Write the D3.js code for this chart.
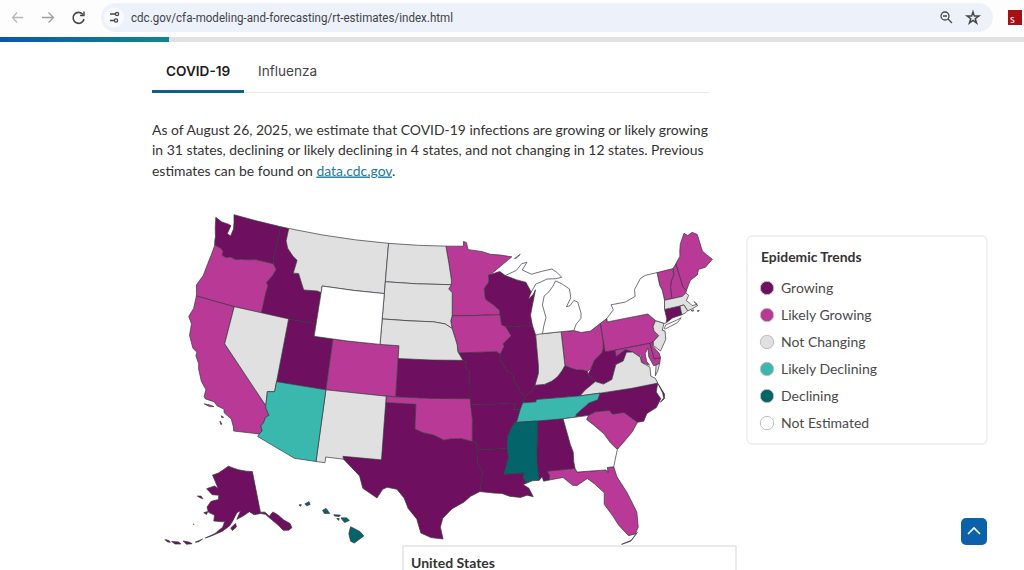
<!DOCTYPE html>
<html><head><meta charset="utf-8">
<script src="https://cdn.jsdelivr.net/npm/d3@7/dist/d3.min.js"></script>
<style>
html,body{margin:0;padding:0;background:#fff;overflow:hidden}
svg{display:block}
text{font-family:Lato,"Open Sans",sans-serif}
</style></head><body>
<svg id="page" width="1024" height="570"></svg>
<script>
const legendLabels=["Growing","Likely Growing","Not Changing","Likely Declining","Declining","Not Estimated"];
const legendColors=["#6f0f5f","#b83a96","#e0e0e0","#3ab8ae","#036469","#ffffff"];
const growing=["WA","ID","UT","KS","MO","AR","LA","TX","AL","WI","IL","KY","WV","NC","CT","AK"];
const likelyGrowing=["OR","CA","CO","OK","MN","IA","OH","PA","MD","DE","SC","FL","ME","NH","VT"];
const notChanging=["MT","ND","SD","NE","NV","NM","IN","VA","NJ","MA","RI","DC"];
const likelyDeclining=["AZ","TN"];
const declining=["MS","HI"];
const notEstimated=["WY","MI","GA","NY"];
const paragraphLines=["As of August 26, 2025, we estimate that COVID-19 infections are growing or likely growing","in 31 states, declining or likely declining in 4 states, and not changing in 12 states. Previous"];
const paragraphEnd=["estimates can be found on ","data.cdc.gov","."];
const stateShapes={
WA:[[[-122.76,49],[-120,49],[-117.03,49],[-117.04,46.42],[-116.92,46],[-118.98,46],[-119.3,45.93],[-119.9,45.83],[-120.65,45.73],[-121.2,45.6],[-121.8,45.7],[-122.3,45.55],[-122.76,45.65],[-122.8,46],[-123.2,46.15],[-123.9,46.25],[-124.05,46.6],[-124.1,46.9],[-124.4,47.5],[-124.73,48.38],[-123.9,48.17],[-123.1,48.15],[-122.75,48.1],[-122.9,47.4],[-122.45,47.3],[-122.35,47.9],[-122.5,48.4],[-122.76,49]]],
OR:[[[-123.9,46.25],[-123.2,46.15],[-122.8,46],[-122.76,45.65],[-122.3,45.55],[-121.8,45.7],[-121.2,45.6],[-120.65,45.73],[-119.9,45.83],[-119.3,45.93],[-118.98,46],[-116.92,46],[-116.46,45.6],[-116.7,45.1],[-117.2,44.45],[-116.95,44.2],[-117.03,43.8],[-117.03,42],[-120,42],[-124.21,42],[-124.55,42.84],[-124.15,43.7],[-124.05,44.7],[-123.95,45.5]]],
CA:[[[-124.21,42],[-120,42],[-120,39],[-114.63,35],[-114.57,34.8],[-114.14,34.3],[-114.43,34.1],[-114.53,33.6],[-114.72,33.4],[-114.5,33],[-114.72,32.72],[-117.12,32.53],[-117.25,32.85],[-117.6,33.4],[-118.4,33.75],[-118.5,34.03],[-119.2,34.15],[-119.6,34.4],[-120.47,34.45],[-120.65,34.6],[-120.65,35.15],[-121.3,35.7],[-121.9,36.6],[-122,36.95],[-122.5,37.5],[-122.5,37.8],[-123,38],[-123.7,38.9],[-123.85,39.8],[-124.35,40.3],[-124.1,41]],
[[-120.45,34.05],[-119.9,34.08],[-119.5,34.03],[-119.9,33.95]],[[-118.6,33.47],[-118.35,33.4],[-118.5,33.33]],[[-118.6,33.05],[-118.35,32.85],[-118.45,32.8]]],
NV:[[[-120,42],[-114.04,42],[-114.04,36.2],[-114.74,36.1],[-114.63,35],[-120,39]]],
ID:[[[-117.03,49],[-116.05,49],[-116.05,48],[-115.7,47.45],[-114.9,46.9],[-114.35,46.65],[-114.5,45.6],[-113.9,45.65],[-113.45,45.05],[-113,44.45],[-111.5,44.55],[-111.05,44.47],[-111.05,42],[-114.04,42],[-117.03,42],[-117.03,43.8],[-116.95,44.2],[-117.2,44.45],[-116.7,45.1],[-116.46,45.6],[-116.92,46],[-117.04,46.42]]],
MT:[[[-116.05,49],[-112,49],[-108,49],[-104.05,49],[-104.05,45],[-107.5,45],[-111.05,45],[-111.05,44.47],[-111.5,44.55],[-113,44.45],[-113.45,45.05],[-113.9,45.65],[-114.5,45.6],[-114.35,46.65],[-114.9,46.9],[-115.7,47.45],[-116.05,48]]],
WY:[[[-111.05,45],[-107.5,45],[-104.05,45],[-104.05,41],[-107.5,41],[-111.05,41]]],
UT:[[[-114.04,42],[-111.05,42],[-111.05,41],[-109.05,41],[-109.05,37],[-114.04,37]]],
CO:[[[-109.05,41],[-105.5,41],[-102.05,41],[-102.05,37],[-105.5,37],[-109.05,37]]],
AZ:[[[-114.74,36.1],[-114.04,36.2],[-114.04,37],[-109.05,37],[-109.05,31.33],[-111.07,31.33],[-114.81,32.5],[-114.72,32.72],[-114.5,33],[-114.72,33.4],[-114.53,33.6],[-114.43,34.1],[-114.14,34.3],[-114.57,34.8],[-114.63,35]]],
NM:[[[-109.05,37],[-103,37],[-103,32],[-106.62,32],[-106.53,31.78],[-108.21,31.78],[-108.21,31.33],[-109.05,31.33]]],
ND:[[[-104.05,49],[-100.5,49],[-97.23,49],[-96.85,47.6],[-96.55,46.3],[-96.56,45.94],[-100.5,45.94],[-104.05,45.94]]],
SD:[[[-104.05,45.94],[-100.5,45.94],[-96.56,45.94],[-96.85,45.6],[-96.45,45.3],[-96.45,43.5],[-96.6,43.1],[-96.45,42.5],[-97.2,42.85],[-98.5,43],[-101,43],[-104.05,43]]],
NE:[[[-104.05,43],[-101,43],[-98.5,43],[-97.2,42.85],[-96.45,42.5],[-96.1,41.7],[-95.9,41.2],[-95.85,40.7],[-95.31,40],[-98.5,40],[-102.05,40],[-102.05,41],[-104.05,41]]],
KS:[[[-102.05,40],[-98.5,40],[-95.31,40],[-94.9,39.8],[-95.1,39.5],[-94.61,39.1],[-94.62,37],[-98.5,37],[-102.05,37]]],
OK:[[[-103,37],[-102.05,37],[-98.5,37],[-94.62,37],[-94.43,35.4],[-94.48,33.64],[-95.5,33.88],[-96.6,33.85],[-97.2,33.75],[-98.1,34.13],[-99.2,34.3],[-100,34.56],[-100,36.5],[-103,36.5]]],
TX:[[[-106.62,32],[-103.06,32],[-103,36.5],[-100,36.5],[-100,34.56],[-99.2,34.3],[-98.1,34.13],[-97.2,33.75],[-96.6,33.85],[-95.5,33.88],[-94.48,33.64],[-94.04,33.55],[-94.04,32],[-93.55,31.2],[-93.7,30.5],[-93.85,29.7],[-94.7,29.35],[-95.3,28.9],[-96.4,28.35],[-97.2,27.6],[-97.4,26.9],[-97.15,25.96],[-98.2,26.05],[-99.1,26.4],[-99.5,27.5],[-100.3,28.3],[-100.7,29.1],[-101.4,29.77],[-102.3,29.88],[-102.7,29.7],[-103.15,28.98],[-104.5,29.65],[-104.9,30.6],[-106.53,31.78]]],
MN:[[[-97.23,49],[-95.15,49],[-95.15,49.38],[-94.8,49.3],[-94.6,48.72],[-93,48.55],[-92,48.3],[-90.8,48.2],[-89.5,48],[-90.7,47.4],[-92.05,46.7],[-92.3,46.65],[-92.3,46.1],[-92.85,45.6],[-92.75,44.75],[-91.9,44.3],[-91.25,43.85],[-91.22,43.5],[-94,43.5],[-96.45,43.5],[-96.45,45.3],[-96.85,45.6],[-96.56,45.94],[-96.55,46.3],[-96.85,47.6]]],
IA:[[[-96.45,43.5],[-94,43.5],[-91.22,43.5],[-91.1,42.7],[-90.65,42.5],[-90.15,41.8],[-91.05,41.2],[-90.95,41],[-91.4,40.4],[-91.73,40.61],[-95.77,40.59],[-95.9,41.2],[-96.1,41.7],[-96.45,42.5],[-96.6,43.1]]],
MO:[[[-95.77,40.59],[-91.73,40.61],[-91.4,40.4],[-91.5,40],[-90.7,39],[-90.2,38.8],[-90.2,38.4],[-89.5,37.3],[-89.1,37],[-89.4,36.5],[-89.7,36],[-90.37,36],[-90.1,36.5],[-94.62,36.5],[-94.62,37],[-94.61,39.1],[-95.1,39.5],[-94.9,39.8],[-95.31,40]]],
AR:[[[-94.62,36.5],[-90.1,36.5],[-90.37,36],[-89.7,36],[-90.1,35.1],[-90.3,35],[-90.6,34.7],[-91.1,33.9],[-91.17,33],[-94.04,33],[-94.04,33.55],[-94.48,33.64],[-94.43,35.4]]],
LA:[[[-94.04,33],[-91.17,33],[-91.1,32.3],[-91.6,31],[-89.73,31],[-89.85,30.65],[-89.55,30.2],[-89.9,30.1],[-89.4,29.8],[-89.05,29.1],[-89.6,29.25],[-90.2,29.1],[-91.2,29.25],[-91.85,29.5],[-92.6,29.55],[-93.85,29.7],[-93.7,30.5],[-93.55,31.2],[-94.04,32]]],
WI:[[[-92.3,46.65],[-91,46.9],[-90.4,46.55],[-89.1,46.15],[-88.1,45.9],[-87.6,45.1],[-88,44.55],[-87.4,44.9],[-87.1,45.25],[-87.5,44.3],[-87.9,43.3],[-87.8,42.5],[-90.65,42.5],[-91.1,42.7],[-91.22,43.5],[-91.25,43.85],[-91.9,44.3],[-92.75,44.75],[-92.85,45.6],[-92.3,46.1]]],
IL:[[[-90.65,42.5],[-87.8,42.5],[-87.53,41.7],[-87.53,39.3],[-87.6,38.7],[-88.05,37.8],[-88.4,37.4],[-89.1,37],[-89.5,37.3],[-90.2,38.4],[-90.2,38.8],[-90.7,39],[-91.5,40],[-91.4,40.4],[-90.95,41],[-91.05,41.2],[-90.15,41.8]]],
IN:[[[-87.53,41.7],[-87.2,41.75],[-86.8,41.76],[-84.8,41.76],[-84.82,39.1],[-85.2,38.7],[-85.7,38.3],[-86.3,38],[-87.1,37.8],[-88.05,37.8],[-87.6,38.7],[-87.53,39.3]]],
MI:[[[-86.8,41.76],[-84.8,41.76],[-83.45,41.73],[-83.1,42.2],[-82.5,42.6],[-82.42,43],[-82.6,43.9],[-83,44.07],[-83.5,43.7],[-83.9,43.65],[-83.3,44.3],[-83.3,45],[-84.1,45.5],[-84.75,45.78],[-85.1,45.4],[-85.6,45],[-86.2,44.7],[-86.5,44],[-86.25,43],[-86.6,42.3]],
[[-90.4,46.55],[-89.1,46.9],[-88.4,47.4],[-87.8,47.47],[-88.4,46.9],[-87.4,46.5],[-86.2,46.65],[-85,46.75],[-84.5,46.45],[-84,46],[-84.7,45.95],[-85.7,46],[-86.5,45.8],[-87,45.7],[-87.6,45.1],[-88.1,45.9],[-89.1,46.15]],
[[-89.2,47.85],[-88.5,48.15],[-88.9,47.9]]],
OH:[[[-84.8,41.76],[-83.45,41.73],[-82.7,41.5],[-81.7,41.5],[-80.52,41.98],[-80.52,40.64],[-80.65,40],[-80.85,39.7],[-81.75,39.2],[-82.2,38.6],[-82.6,38.42],[-83.2,38.6],[-83.7,38.65],[-84.25,38.85],[-84.82,39.1]]],
KY:[[[-89.4,36.5],[-88.07,36.5],[-88.07,36.68],[-83.68,36.6],[-83.1,37],[-81.97,37.54],[-82.6,38.17],[-82.6,38.42],[-83.2,38.6],[-83.7,38.65],[-84.25,38.85],[-84.82,39.1],[-85.2,38.7],[-85.7,38.3],[-86.3,38],[-87.1,37.8],[-88.05,37.8],[-88.4,37.4],[-89.1,37]]],
TN:[[[-90.1,35.1],[-89.7,36],[-89.4,36.5],[-88.07,36.5],[-88.07,36.68],[-83.68,36.6],[-81.68,36.59],[-82,36.1],[-82.9,35.95],[-84.3,35.2],[-84.32,34.99],[-85.6,34.98],[-88.2,35],[-90.3,35]]],
MS:[[[-90.3,35],[-88.2,35],[-88.1,34.9],[-88.47,31.9],[-88.4,30.35],[-89.05,30.35],[-89.55,30.2],[-89.85,30.65],[-89.73,31],[-91.6,31],[-91.1,32.3],[-91.17,33],[-91.1,33.9],[-90.6,34.7]]],
AL:[[[-88.2,35],[-85.6,34.98],[-85.18,32.87],[-85,32.3],[-85.05,31.5],[-85,31],[-87.6,31],[-87.4,30.65],[-87.5,30.3],[-88,30.25],[-88.1,30.6],[-88.4,30.35],[-88.47,31.9],[-88.1,34.9]]],
GA:[[[-85.6,34.98],[-84.32,34.99],[-83.1,35],[-83.35,34.7],[-82.75,34.2],[-81.9,33.4],[-81.4,32.6],[-80.87,32.03],[-81.2,31.3],[-81.45,30.72],[-82.05,30.75],[-82.05,30.36],[-82.2,30.57],[-84.86,30.7],[-85,31],[-85.05,31.5],[-85,32.3],[-85.18,32.87]]],
FL:[[[-87.6,31],[-85,31],[-84.86,30.7],[-82.2,30.57],[-82.05,30.36],[-82.05,30.75],[-81.45,30.72],[-81.3,29.9],[-80.6,28.5],[-80.05,26.9],[-80.15,25.7],[-80.5,25.2],[-81.1,25.15],[-81.8,26.1],[-82.2,26.9],[-82.8,27.9],[-82.65,28.8],[-83.4,29.6],[-84,30.1],[-85,29.65],[-85.4,29.7],[-86.2,30.4],[-87.5,30.3],[-87.4,30.65]],
[[-80.3,25.3],[-80.9,24.75],[-81.8,24.55],[-81,24.68]]],
SC:[[[-83.1,35],[-82.4,35.2],[-81.05,35.15],[-80.8,34.82],[-79.67,34.8],[-78.55,33.86],[-79.2,33.2],[-79.9,32.7],[-80.87,32.03],[-81.4,32.6],[-81.9,33.4],[-82.75,34.2],[-83.35,34.7]]],
NC:[[[-84.32,34.99],[-84.3,35.2],[-82.9,35.95],[-82,36.1],[-81.68,36.59],[-78.5,36.55],[-75.87,36.55],[-76.2,35.9],[-75.9,35.3],[-76.5,34.7],[-77.5,34.4],[-77.95,33.85],[-78.55,33.86],[-79.67,34.8],[-80.8,34.82],[-81.05,35.15],[-82.4,35.2],[-83.1,35]],
[[-75.85,36.5],[-75.45,35.6],[-75.55,35.25],[-76,35.05],[-75.6,35.32],[-75.6,35.7]]],
VA:[[[-83.68,36.6],[-81.68,36.59],[-78.5,36.55],[-75.87,36.55],[-76,36.95],[-76.4,37.2],[-76.3,37.9],[-77.05,38.4],[-77.05,38.8],[-77.72,39.32],[-78.35,39.4],[-78.85,38.77],[-79.65,38.6],[-80.3,37.5],[-81.2,37.25],[-81.97,37.54],[-83.1,37]],
[[-75.95,37.15],[-75.65,37.95],[-75.25,38.03],[-75.6,37.5]]],
WV:[[[-81.97,37.54],[-81.2,37.25],[-80.3,37.5],[-79.65,38.6],[-78.85,38.77],[-78.35,39.4],[-77.72,39.32],[-78.4,39.62],[-79.48,39.2],[-79.48,39.72],[-80.52,39.72],[-80.52,40.64],[-80.65,40],[-80.85,39.7],[-81.75,39.2],[-82.2,38.6],[-82.6,38.17]]],
MD:[[[-79.48,39.72],[-75.79,39.72],[-75.7,38.46],[-75.05,38.45],[-75.25,38.03],[-75.65,37.95],[-75.9,37.95],[-76.2,38.7],[-76.1,39.4],[-76.5,39],[-76.5,38.4],[-76.3,38.05],[-77.05,38.4],[-77.05,38.8],[-77.72,39.32],[-78.4,39.62],[-79.48,39.2]]],
DE:[[[-75.79,39.72],[-75.4,39.8],[-75.55,39.45],[-75.08,38.8],[-75.05,38.45],[-75.7,38.46]]],
DC:[[[-77.12,38.93],[-77.03,39],[-76.91,38.89],[-77.03,38.8]]],
PA:[[[-80.52,41.98],[-79.76,42.27],[-79.76,42],[-75.35,42],[-74.7,41.36],[-75.1,40.95],[-75.1,40.6],[-74.72,40.15],[-75.4,39.8],[-75.79,39.72],[-79.48,39.72],[-80.52,39.72]]],
NJ:[[[-74.7,41.36],[-73.9,41],[-74.25,40.5],[-73.98,40.4],[-74.1,39.75],[-74.9,38.95],[-75.5,39.5],[-75.4,39.8],[-74.72,40.15],[-75.1,40.6],[-75.1,40.95]]],
NY:[[[-79.76,42.27],[-78.9,42.85],[-79.05,43.27],[-77.5,43.27],[-76.3,43.55],[-76.2,44.1],[-75.3,44.85],[-74.7,45],[-73.35,45],[-73.4,44],[-73.25,43.55],[-73.27,42.75],[-73.5,42.05],[-73.5,41.3],[-73.65,41],[-73.9,41],[-74.7,41.36],[-75.35,42],[-79.76,42]],
[[-74,40.6],[-73.75,40.85],[-72.6,41],[-72,41.1],[-72.5,40.8],[-73.9,40.55]]],
CT:[[[-73.5,42.05],[-71.8,42.02],[-71.85,41.32],[-72.9,41.25],[-73.65,41],[-73.5,41.3]]],
RI:[[[-71.8,42.02],[-71.38,42.02],[-71.15,41.5],[-71.5,41.37],[-71.85,41.32]]],
MA:[[[-73.5,42.05],[-73.27,42.75],[-72.46,42.73],[-71.3,42.7],[-70.85,42.88],[-70.6,42.65],[-71,42.3],[-70.65,41.95],[-70.55,41.8],[-70,41.8],[-70.25,42.07],[-69.95,41.7],[-70.65,41.55],[-71.15,41.5],[-71.38,42.02],[-71.8,42.02]],
[[-70.8,41.45],[-70.5,41.45],[-70.6,41.35]],[[-70.2,41.3],[-69.95,41.3],[-70.05,41.22]]],
VT:[[[-73.35,45],[-71.5,45],[-71.6,44.5],[-72.05,44.1],[-72.3,43.6],[-72.46,42.73],[-73.27,42.75],[-73.25,43.55],[-73.4,44]]],
NH:[[[-71.5,45],[-71.08,45.3],[-70.98,43.4],[-70.7,43.07],[-70.85,42.88],[-71.3,42.7],[-72.46,42.73],[-72.3,43.6],[-72.05,44.1],[-71.6,44.5]]],
ME:[[[-71.08,45.3],[-70.4,45.8],[-70.25,46.2],[-70,46.7],[-69.23,47.46],[-68.9,47.2],[-68.3,47.35],[-67.8,47.07],[-67.8,45.7],[-67.45,45.3],[-67,44.85],[-68,44.4],[-68.8,44.4],[-69.1,44],[-70,43.75],[-70.7,43.07],[-70.98,43.4]]],
AK:[[[-156.6,71.35],[-160,70.4],[-163,69.5],[-166.2,68.9],[-164,67.6],[-161.8,66.1],[-164,66.55],[-168,65.6],[-164.5,64.5],[-161,64.6],[-161,63.6],[-164.5,63],[-166,61.6],[-165,60.5],[-162,60],[-162,58.7],[-158,58.7],[-157.2,58.85],[-158,57.5],[-161,55.9],[-164.5,54.65],[-162.5,55.2],[-158,56.6],[-155,57.9],[-153.5,59.2],[-151.8,60.8],[-150,61.2],[-151.9,59.3],[-149,60],[-146,60.8],[-144,60],[-141,60],[-139,59.6],[-136.8,58],[-135,56.6],[-133.6,55.1],[-131.5,54.7],[-130,55],[-130.1,56],[-132,57.2],[-133.8,58.8],[-135.5,59.7],[-137.5,59],[-139,60.1],[-141,60.3],[-141,69.65],[-145,70],[-150,70.5],[-153,70.9]],
[[-154.6,57.4],[-152.5,58.4],[-152.2,57.6],[-153.9,56.8]],[[-171.8,63.5],[-170,63.7],[-168.8,63.2],[-170.5,63.3]],[[-167,60.2],[-165.3,60.6],[-165.6,59.9]],[[-166.2,54],[-165.5,54.3],[-166.9,53.5],[-168,53.3]],[[-172.5,52.9],[-170,53],[-169,52.8],[-171,52.4]],[[-176.5,52],[-174,52.4],[-173,52.1],[-175,51.7]],[[-179,51.9],[-177.5,52],[-176.8,51.7],[-178,51.6]],[[-170.4,57.2],[-170,57.2],[-170.2,57.1]]],
HI:[[[-155.9,20.25],[-155.1,19.85],[-154.8,19.5],[-155.6,18.95],[-155.9,19.1],[-156.05,19.7]],[[-156.7,20.95],[-156.25,20.95],[-156,20.75],[-156.4,20.58],[-156.6,20.8]],[[-158.25,21.55],[-157.95,21.7],[-157.65,21.3],[-158.1,21.3]],[[-159.75,22.05],[-159.4,22.23],[-159.3,22],[-159.6,21.9]],[[-157.3,21.2],[-156.75,21.17],[-156.85,21.05],[-157.25,21.1]],[[-157.05,20.9],[-156.85,20.9],[-156.9,20.75]],[[-160.25,21.95],[-160.05,22],[-160.1,21.85]]]
};

const statusLists=[growing,likelyGrowing,notChanging,likelyDeclining,declining,notEstimated];
const svg=d3.select("#page");
const grad=svg.append("defs").append("linearGradient").attr("id","prog");
grad.append("stop").attr("offset","0").attr("stop-color","#0b57a8");
grad.append("stop").attr("offset","1").attr("stop-color","#12868f");

// browser chrome
svg.append("rect").attr("width",1024).attr("height",37).attr("fill","#fdfdfe");
svg.append("rect").attr("x",101).attr("y",3).attr("width",892).attr("height",29).attr("rx",14.5).attr("fill","#edf2fa");
svg.append("circle").attr("cx",114).attr("cy",17.5).attr("r",10).attr("fill","#f8fafd");
const ic=svg.append("g").attr("fill","none").attr("stroke","#474747").attr("stroke-width",1.3);
ic.append("path").attr("d","M13 17.5H23M17 12.5L12.5 17.5L17 22.5").attr("stroke","#b6b8bb");
ic.append("path").attr("d","M42 17.5H53M48.5 12.5L53.5 17.5L48.5 22.5").attr("stroke","#9d9fa3");
ic.append("path").attr("d","M83 14.5A5.5 5.5 0 1 0 84 19").attr("stroke-width",1.6);
ic.append("path").attr("d","M84 11.5V15.5H80").attr("stroke-width",1.4);
ic.append("path").attr("d","M110 14H115M110 20.5H114");
ic.append("circle").attr("cx",117).attr("cy",14).attr("r",1.6);
ic.append("circle").attr("cx",116).attr("cy",20.5).attr("r",1.6);
ic.append("circle").attr("cx",945).attr("cy",16).attr("r",4);
ic.append("path").attr("d","M948 19L952 23M943 16H947");
svg.append("path").attr("d",d3.symbol(d3.symbolStar,42)()).attr("transform","translate(973,18)").attr("fill","none").attr("stroke","#474747").attr("stroke-width",1.5);
svg.append("rect").attr("x",1008).attr("y",10).attr("width",14).attr("height",15).attr("fill","#a80f14");
svg.append("text").attr("x",1010).attr("y",23).attr("font-size",11).attr("fill","#fff").text("s");
svg.append("text").attr("x",131).attr("y",22).attr("font-size",12).attr("fill","#3f4247").attr("textLength",322).attr("lengthAdjust","spacingAndGlyphs").style("font-family","Roboto").text("cdc.gov/cfa-modeling-and-forecasting/rt-estimates/index.html");
svg.append("rect").attr("y",37).attr("width",1024).attr("height",5).attr("fill","#e1e1e1");
svg.append("rect").attr("y",37).attr("width",169).attr("height",5).attr("fill","url(#prog)");

// tabs
svg.append("rect").attr("x",152).attr("y",92).attr("width",557).attr("height",1).attr("fill","#e8e8e8");
svg.append("rect").attr("x",152).attr("y",90).attr("width",92).attr("height",3).attr("fill","#0f5e8f");
svg.append("text").attr("x",166).attr("y",76).attr("font-size",13.6).attr("font-weight",600).attr("fill","#1c1c1c").style("font-family","Inter").text("COVID-19");
svg.append("text").attr("x",258).attr("y",76).attr("font-size",13.6).attr("fill","#444").style("font-family","Inter").text("Influenza");

// paragraph
paragraphLines.forEach((t,i)=>svg.append("text").attr("x",152).attr("y",134.5+i*20.5).attr("font-size",13.93).attr("fill","#333").text(t));
const endLine=svg.append("text").attr("x",152).attr("y",175.5).attr("font-size",13.93).attr("fill","#333").style("white-space","pre");
endLine.append("tspan").text(paragraphEnd[0]);
endLine.append("tspan").attr("fill","#1b7a9c").attr("text-decoration","underline").text(paragraphEnd[1]);
endLine.append("tspan").text(paragraphEnd[2]);

// map
const projection=d3.geoAlbersUsa().scale(726).translate([450.4,377]);
const path=d3.geoPath(projection);
const toFeature=code=>({type:"Feature",id:code,geometry:{type:"MultiPolygon",coordinates:stateShapes[code].map(r=>{
  const ring=r.concat([r[0]]);
  return [d3.geoArea({type:"Polygon",coordinates:[ring]})>2*Math.PI?ring.slice().reverse():ring];
})}});
const rows=statusLists.flatMap((list,i)=>list.map(code=>({code,i})));
svg.append("g").selectAll("path").data(rows).join("path")
  .attr("d",d=>path(toFeature(d.code)))
  .attr("fill",d=>legendColors[d.i])
  .attr("stroke","#3a3540").attr("stroke-width",0.7).attr("stroke-linejoin","round");

// legend
svg.append("rect").attr("x",747).attr("y",236).attr("width",240).attr("height",208).attr("rx",5).attr("fill","#fff").attr("stroke","#e2e2e2");
svg.append("text").attr("x",761).attr("y",262).attr("font-size",13.9).attr("font-weight",700).attr("fill","#333").text("Epidemic Trends");
const leg=svg.append("g").selectAll("g").data(legendLabels).join("g").attr("transform",(d,i)=>`translate(0,${288+i*27})`);
leg.append("circle").attr("cx",767).attr("r",6.7).attr("fill",(d,i)=>legendColors[i]).attr("stroke","#bdbdbd").attr("stroke-width",1);
leg.append("text").attr("x",781).attr("y",5).attr("font-size",14).attr("fill","#4a4a4a").text(d=>d);

// bottom panel + button
svg.append("rect").attr("x",403).attr("y",546).attr("width",333).attr("height",40).attr("fill","#fff").attr("stroke","#d6d6d6");
svg.append("text").attr("x",411).attr("y",568).attr("font-size",14).attr("font-weight",700).attr("fill","#333").text("United States");
svg.append("rect").attr("x",961).attr("y",518).attr("width",26).attr("height",27).attr("rx",5).attr("fill","#0b62ab");
svg.append("path").attr("d","M968 534L974 528L980 534").attr("fill","none").attr("stroke","#fff").attr("stroke-width",1.6);
</script>
</body></html>
